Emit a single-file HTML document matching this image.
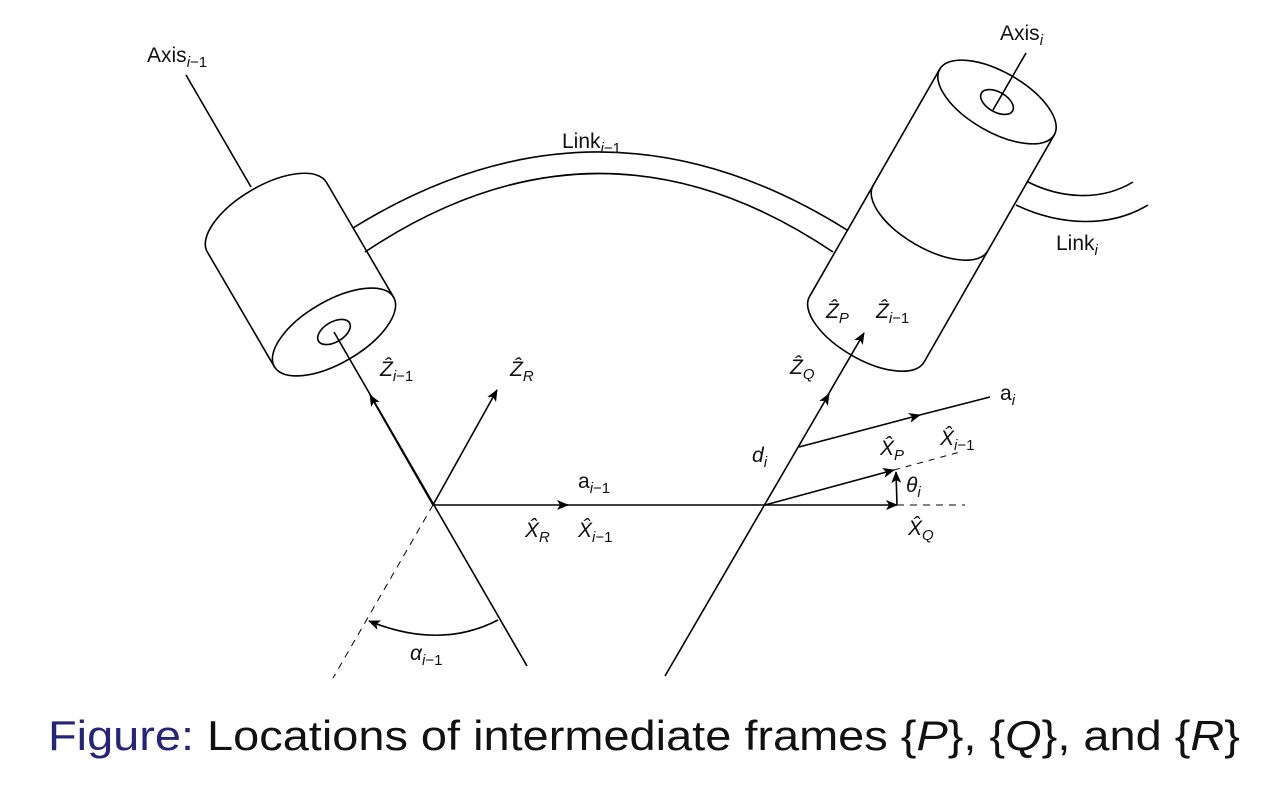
<!DOCTYPE html>
<html><head><meta charset="utf-8"><style>
html,body{margin:0;padding:0;background:#fff;}
svg{display:block;}
text{font-family:"Liberation Sans",sans-serif;fill:#111;}
.m{font-style:italic;}
</style></head><body>
<svg width="1277" height="805" viewBox="0 0 1277 805" xmlns="http://www.w3.org/2000/svg">
<defs>
<marker id="ar" markerWidth="12" markerHeight="10" refX="11" refY="5" orient="auto" markerUnits="userSpaceOnUse">
<path d="M0,0 L12,5 L0,10 L3,5 Z" fill="#000"/>
</marker>
</defs>
<g fill="none" stroke="#000" stroke-width="1.6">
<path d="M353 228 Q600 75 847 230"/>
<path d="M365 252 Q600 95 833 252"/>
<path d="M1028 182 C1060 198 1100 202 1133 182"/>
<path d="M1016 205 C1060 226 1110 228 1148 205"/>
<line x1="186" y1="75" x2="251" y2="187"/>
<g transform="translate(334,332) rotate(-30.3)">
<ellipse cx="0" cy="0" rx="69" ry="31" fill="#fff"/>
<ellipse cx="0" cy="0" rx="18" ry="10"/>
<line x1="-69" y1="0" x2="-69" y2="-133"/>
<line x1="69" y1="0" x2="69" y2="-133"/>
<path d="M-69 -133 A69 31 0 0 1 69 -133"/>
</g>
<g transform="translate(997,102) rotate(29.8)">
<ellipse cx="0" cy="0" rx="66" ry="30"/>
<ellipse cx="0" cy="0" rx="18" ry="10"/>
<line x1="-66" y1="0" x2="-66" y2="262"/>
<line x1="66" y1="0" x2="66" y2="262"/>
<path d="M-66 134 A66 30 0 0 0 66 134"/>
<path d="M-66 262 A66 30 0 0 0 66 262"/>
</g>
<line x1="1026" y1="53" x2="993" y2="110"/>
<line x1="334" y1="332" x2="527" y2="666"/>
<line x1="433" y1="505" x2="370" y2="395" marker-end="url(#ar)"/>
<line x1="433" y1="505" x2="497" y2="390" marker-end="url(#ar)"/>
<line x1="433" y1="505" x2="333" y2="678" stroke-dasharray="7,6" stroke-width="1"/>
<path d="M498 620 Q440 650 369 621" marker-end="url(#ar)"/>
<line x1="433" y1="505" x2="568" y2="505" marker-end="url(#ar)"/>
<line x1="560" y1="505" x2="897" y2="505" marker-end="url(#ar)"/>
<line x1="897" y1="505" x2="965" y2="505" stroke-dasharray="7,6" stroke-width="1"/>
<line x1="665" y1="676" x2="829" y2="394" marker-end="url(#ar)"/>
<line x1="825" y1="400" x2="864" y2="333" marker-end="url(#ar)"/>
<line x1="799" y1="447" x2="920" y2="415" marker-end="url(#ar)"/>
<line x1="912" y1="417" x2="990" y2="397"/>
<line x1="765" y1="505" x2="894" y2="470" marker-end="url(#ar)"/>
<line x1="894" y1="470" x2="960" y2="452" stroke-dasharray="6,6" stroke-width="1"/>
<line x1="897" y1="505" x2="896" y2="472" marker-end="url(#ar)"/>
</g>
<g font-size="21">
<text x="147" y="62">Axis<tspan class="m" font-size="15" dy="5">i</tspan><tspan font-size="15">−1</tspan></text>
<text x="562" y="148">Link<tspan class="m" font-size="15" dy="5">i</tspan><tspan font-size="15">−1</tspan></text>
<text x="1000" y="40">Axis<tspan class="m" font-size="15" dy="5">i</tspan></text>
<text x="1056" y="250">Link<tspan class="m" font-size="15" dy="5">i</tspan></text>
<text class="m" x="380" y="376">Ẑ<tspan font-size="15" dy="5">i</tspan><tspan font-size="15" font-style="normal">−1</tspan></text>
<text class="m" x="510" y="376">Ẑ<tspan font-size="15" dy="5">R</tspan></text>
<text class="m" x="826" y="318">Ẑ<tspan font-size="15" dy="5">P</tspan></text>
<text class="m" x="876" y="318">Ẑ<tspan font-size="15" dy="5">i</tspan><tspan font-size="15" font-style="normal">−1</tspan></text>
<text class="m" x="790" y="374">Ẑ<tspan font-size="15" dy="5">Q</tspan></text>
<text class="m" x="752" y="462">d<tspan font-size="15" dy="5">i</tspan></text>
<text x="1000" y="400">a<tspan class="m" font-size="15" dy="5">i</tspan></text>
<text class="m" x="880" y="455">X&#770;<tspan font-size="15" dy="5">P</tspan></text>
<text class="m" x="940" y="445">X&#770;<tspan font-size="15" dy="5">i</tspan><tspan font-size="15" font-style="normal">−1</tspan></text>
<text class="m" x="906" y="492">θ<tspan font-size="15" dy="5">i</tspan></text>
<text class="m" x="908" y="535">X&#770;<tspan font-size="15" dy="5">Q</tspan></text>
<text x="578" y="488">a<tspan class="m" font-size="15" dy="5">i</tspan><tspan font-size="15">−1</tspan></text>
<text class="m" x="525" y="537">X&#770;<tspan font-size="15" dy="5">R</tspan></text>
<text class="m" x="578" y="537">X&#770;<tspan font-size="15" dy="5">i</tspan><tspan font-size="15" font-style="normal">−1</tspan></text>
<text class="m" x="410" y="660">α<tspan font-size="15" dy="5">i</tspan><tspan font-size="15" font-style="normal">−1</tspan></text>
</g>
<text x="48" y="750" font-size="42" textLength="1192" lengthAdjust="spacingAndGlyphs"><tspan fill="#24247a">Figure:</tspan> Locations of intermediate frames {<tspan class="m">P</tspan>}, {<tspan class="m">Q</tspan>}, and {<tspan class="m">R</tspan>}</text>
</svg>
</body></html>
